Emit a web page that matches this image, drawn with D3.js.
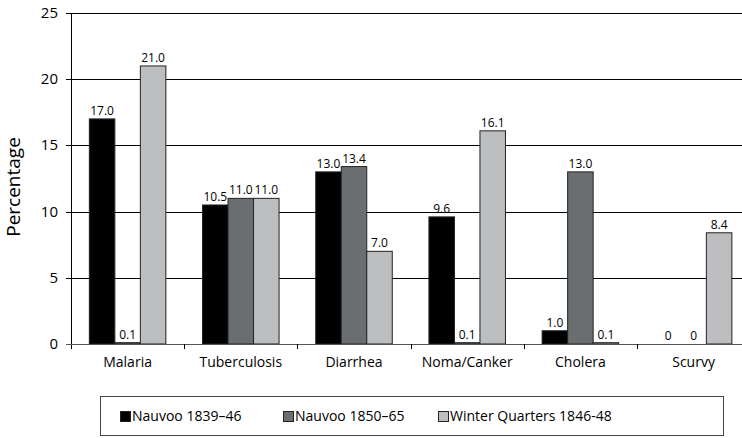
<!DOCTYPE html>
<html>
<head>
<meta charset="utf-8">
<script src="https://cdn.jsdelivr.net/npm/d3@7"></script>
<style>
  body { margin: 0; background: #fff; }
  svg { display: block; font-family: "Open Sans", sans-serif; }
</style>
</head>
<body>
<svg width="742" height="438"></svg>
<script>
// values
var categories = ["Malaria", "Tuberculosis", "Diarrhea", "Noma/Canker", "Cholera", "Scurvy"];
var seriesNames = ["Nauvoo 1839\u201346", "Nauvoo 1850\u201365", "Winter Quarters 1846-48"];
var nauvoo1839 = [17.0, 10.5, 13.0, 9.6, 1.0, 0];
var nauvoo1850 = [0.1, 11.0, 13.4, 0.1, 13.0, 0];
var winterQuarters = [21.0, 11.0, 7.0, 16.1, 0.1, 8.4];
var yTicks = [0, 5, 10, 15, 20, 25];
var colors = ["#000000", "#6b6e70", "#bcbec0"];

var allSeries = [nauvoo1839, nauvoo1850, winterQuarters];

var svg = d3.select("svg");

// note: "top" is taken by window.top, so plotTop etc.
var plotLeft = 71, plotTop = 13, plotBottom = 344, step = 113.2;
var plotRight = plotLeft + step * categories.length;   // runs a bit past the window, like the original

var y = d3.scaleLinear().domain([0, 25]).range([plotBottom, plotTop]);

// outer scale: one slot per category (ticks at the slot edges)
var xSlot = d3.scaleBand().domain(categories).range([plotLeft, plotRight]).padding(0);
// bars sit in the middle of each slot
var x0 = d3.scaleBand().domain(categories).range([plotLeft, plotRight])
    .paddingInner(0.324).paddingOuter(0.162);
var x1 = d3.scaleBand().domain(d3.range(seriesNames.length)).range([0, x0.bandwidth()]);

// gridlines
svg.append("g")
  .selectAll("line")
  .data(yTicks.filter(function(d) { return d > 0; }))
  .enter().append("line")
    .attr("x1", plotLeft - 5)
    .attr("x2", plotRight)
    .attr("y1", function(d) { return Math.round(y(d)) + 0.5; })
    .attr("y2", function(d) { return Math.round(y(d)) + 0.5; })
    .attr("stroke", "#000")
    .attr("stroke-width", 1);

// y tick labels
svg.append("g")
  .selectAll("text")
  .data(yTicks)
  .enter().append("text")
    .attr("x", 58)
    .attr("y", function(d) { return y(d) + 5; })
    .attr("text-anchor", "end")
    .attr("font-size", 15)
    .attr("fill", "#000")
    .text(function(d) { return d; });

// bars
var rows = [];
categories.forEach(function(c, i) {
  allSeries.forEach(function(s, j) {
    rows.push({ cat: c, s: j, v: s[i] });
  });
});

svg.append("g")
  .selectAll("rect")
  .data(rows.filter(function(d) { return d.v > 0; }))
  .enter().append("rect")
    .attr("x", function(d) { return x0(d.cat) + x1(d.s); })
    .attr("y", function(d) { return y(d.v); })
    .attr("width", x1.bandwidth())
    .attr("height", function(d) { return y(0) - y(d.v); })
    .attr("fill", function(d) { return colors[d.s]; })
    .attr("stroke", "#222")
    .attr("stroke-width", 1);

// value labels
svg.append("g")
  .selectAll("text")
  .data(rows)
  .enter().append("text")
    .attr("x", function(d) { return x0(d.cat) + x1(d.s) + x1.bandwidth() / 2; })
    .attr("y", function(d) { return y(d.v) - 4; })
    .attr("text-anchor", "middle")
    .attr("font-size", 12)
    .attr("fill", "#000")
    .text(function(d) { return d.v === 0 ? "0" : d.v.toFixed(1); });

// axes lines
svg.append("line")
  .attr("x1", plotLeft + 0.5).attr("x2", plotLeft + 0.5)
  .attr("y1", plotTop).attr("y2", plotBottom + 5)
  .attr("stroke", "#000");
svg.append("line")
  .attr("x1", plotLeft - 5).attr("x2", plotRight)
  .attr("y1", plotBottom + 0.5).attr("y2", plotBottom + 0.5)
  .attr("stroke", "#555");

// category boundary ticks
svg.append("g")
  .selectAll("line")
  .data(categories.slice(1))
  .enter().append("line")
    .attr("x1", function(d) { return Math.round(xSlot(d)) + 0.5; })
    .attr("x2", function(d) { return Math.round(xSlot(d)) + 0.5; })
    .attr("y1", plotBottom)
    .attr("y2", plotBottom + 5)
    .attr("stroke", "#000");

// category labels
svg.append("g")
  .selectAll("text")
  .data(categories)
  .enter().append("text")
    .attr("x", function(d) { return xSlot(d) + xSlot.bandwidth() / 2; })
    .attr("y", 367)
    .attr("text-anchor", "middle")
    .attr("font-size", 14)
    .attr("fill", "#000")
    .text(function(d) { return d; });

// y axis title
svg.append("text")
  .attr("transform", "translate(20,187) rotate(-90)")
  .attr("text-anchor", "middle")
  .attr("font-size", 19)
  .attr("fill", "#000")
  .text("Percentage");

// legend
var legend = svg.append("g");
legend.append("rect")
  .attr("x", 100.5).attr("y", 396.5)
  .attr("width", 623).attr("height", 39)
  .attr("fill", "none")
  .attr("stroke", "#444");

var legendX = [120, 283, 438];
var item = legend.selectAll("g.item")
  .data(seriesNames)
  .enter().append("g")
    .attr("class", "item")
    .attr("transform", function(d, i) { return "translate(" + legendX[i] + ",411)"; });
item.append("rect")
  .attr("x", 0.5).attr("y", 0.5)
  .attr("width", 10).attr("height", 10)
  .attr("fill", function(d, i) { return colors[i]; })
  .attr("stroke", "#222");
item.append("text")
  .attr("x", 12)
  .attr("y", 10)
  .attr("font-size", 14)
  .attr("fill", "#000")
  .text(function(d) { return d; });
</script>
</body>
</html>
